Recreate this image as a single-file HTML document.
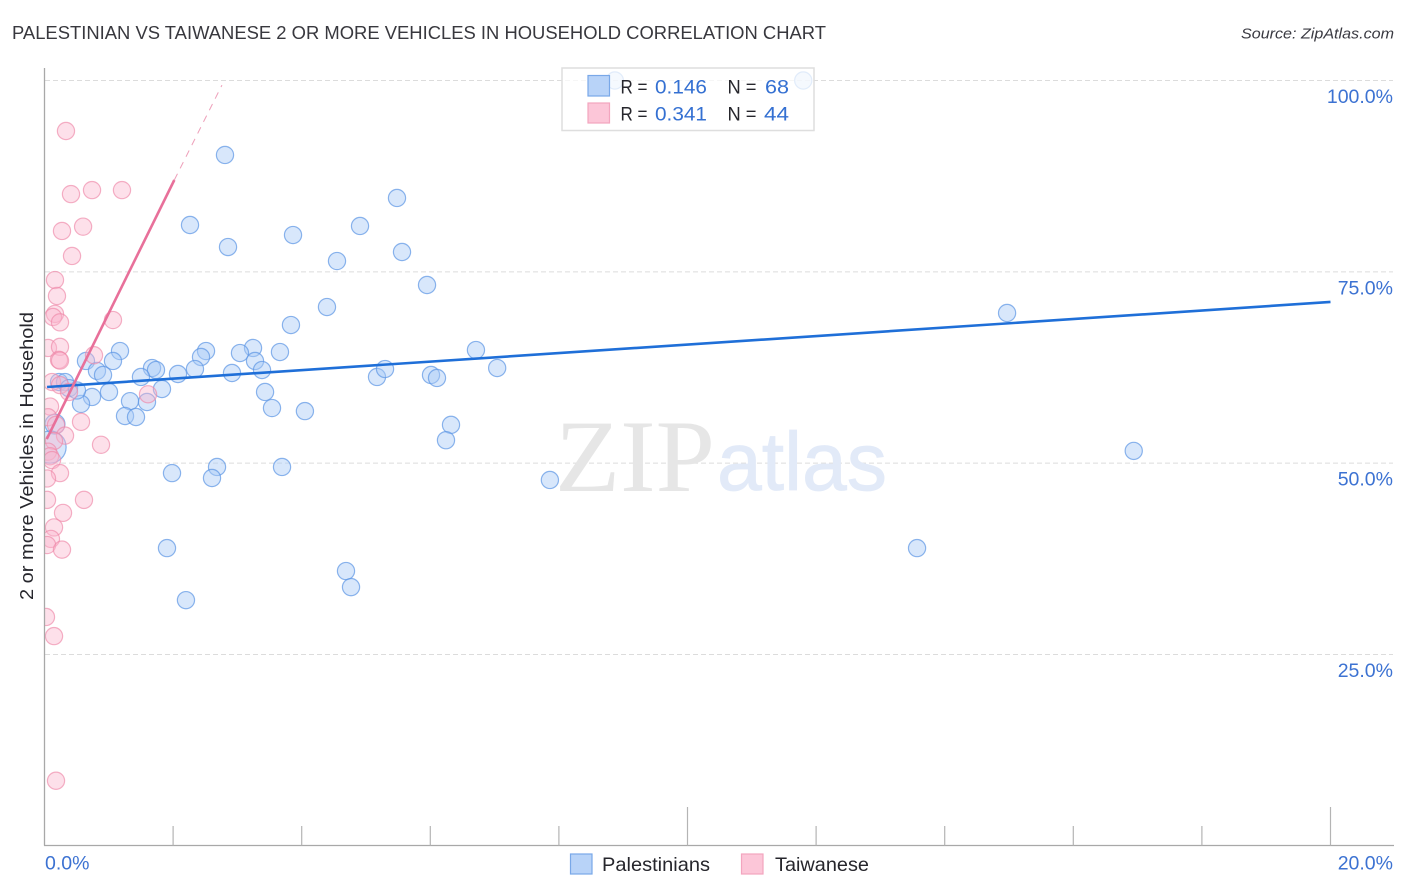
<!DOCTYPE html>
<html lang="en">
<head>
<meta charset="utf-8">
<title>Palestinian vs Taiwanese 2 or More Vehicles in Household Correlation Chart</title>
<style>
html,body{margin:0;padding:0;background:#fff;width:1406px;height:892px;overflow:hidden}
svg{display:block;font-family:"Liberation Sans",sans-serif}
</style>
</head>
<body>
<svg id="chart" width="1406" height="892" viewBox="0 0 1406 892" xmlns="http://www.w3.org/2000/svg">
  <defs>
    <clipPath id="plot-clip"><rect x="45" y="60" width="1350" height="785"/></clipPath>
  </defs>
  <text x="12" y="39" font-size="18.5" fill="#38383e" textLength="814" lengthAdjust="spacingAndGlyphs">PALESTINIAN VS TAIWANESE 2 OR MORE VEHICLES IN HOUSEHOLD CORRELATION CHART</text>
  <text x="1394" y="38.5" font-size="15" font-style="italic" fill="#3a3a42" text-anchor="end" textLength="153" lengthAdjust="spacingAndGlyphs">Source: ZipAtlas.com</text>

  <g id="grid"></g>

  <g>
    <text x="555" y="491" font-family="'Liberation Serif',serif" font-size="103" fill="#e6e6e6" textLength="160" lengthAdjust="spacingAndGlyphs">ZIP</text>
    <text x="717" y="490" font-size="83" fill="#e2eaf8" stroke="#e2eaf8" stroke-width="0.8" textLength="170" lengthAdjust="spacingAndGlyphs">atlas</text>
  </g>

  <g id="points" clip-path="url(#plot-clip)"></g>
  <g id="trends"></g>
  <g id="axes"></g>
  <g id="tick-labels"></g>

  <text transform="translate(33,456) rotate(-90)" font-size="18.5" fill="#26262c" text-anchor="middle" textLength="288" lengthAdjust="spacingAndGlyphs">2 or more Vehicles in Household</text>

  <g>
    <rect x="562" y="68" width="252" height="62.5" fill="#fff" fill-opacity="0.75" stroke="#dedede" stroke-width="1.5"/>
    <rect x="588" y="75.5" width="21.5" height="20.5" fill="#b8d3f8" stroke="#79a8e8" stroke-width="1.2"/>
    <rect x="588" y="103" width="21.5" height="20" fill="#fcc6d8" stroke="#f3a5bf" stroke-width="1.2"/>
    <g font-size="19.5">
      <text x="620.5" y="93.5" fill="#26262c" textLength="27" lengthAdjust="spacingAndGlyphs">R =</text>
      <text x="655" y="93.5" fill="#3470d2" textLength="52" lengthAdjust="spacingAndGlyphs">0.146</text>
      <text x="727.5" y="93.5" fill="#26262c" textLength="29" lengthAdjust="spacingAndGlyphs">N =</text>
      <text x="765" y="93.5" fill="#3470d2" textLength="24" lengthAdjust="spacingAndGlyphs">68</text>
      <text x="620.5" y="120.5" fill="#26262c" textLength="27" lengthAdjust="spacingAndGlyphs">R =</text>
      <text x="655" y="120.5" fill="#3470d2" textLength="52" lengthAdjust="spacingAndGlyphs">0.341</text>
      <text x="727.5" y="120.5" fill="#26262c" textLength="29" lengthAdjust="spacingAndGlyphs">N =</text>
      <text x="764" y="120.5" fill="#3470d2" textLength="25" lengthAdjust="spacingAndGlyphs">44</text>
    </g>
  </g>

  <g>
    <rect x="570.5" y="854" width="21.5" height="20" fill="#b8d3f8" stroke="#79a8e8" stroke-width="1.2"/>
    <text x="602" y="871" font-size="19.5" fill="#26262c" textLength="108" lengthAdjust="spacingAndGlyphs">Palestinians</text>
    <rect x="741.5" y="854" width="21.5" height="20" fill="#fcc6d8" stroke="#f3a5bf" stroke-width="1.2"/>
    <text x="775" y="871" font-size="19.5" fill="#26262c" textLength="94" lengthAdjust="spacingAndGlyphs">Taiwanese</text>
  </g>
</svg>

<script>
// Data, in axis units (percent)
const palestinianX = [2.807,2.263,2.854,3.865,4.907,5.482,5.56,4.549,5.949,4.393,3.833,14.97,6.71,7.04,3.243,3.04,3.662,2.512,2.434,3.274,3.383,2.916,2.34,2.076,1.672,1.734,1.5,1.827,1.174,1.065,0.645,0.816,0.91,1.003,0.739,0.568,1.33,1.594,1.252,1.423,3.43,3.538,4.05,5.171,5.296,6.011,6.104,6.322,6.244,7.86,2.683,2.605,3.694,1.983,1.905,2.2,4.689,4.767,13.57,16.94,8.87,11.8,0.226,0.319,0.381,0.505,0.163,0.086];
const palestinianY = [90.27,81.12,78.24,79.81,80.99,84.65,77.59,76.41,73.28,70.4,68.05,69.62,64.78,62.43,65.05,64.39,64.52,64.65,63.87,63.35,62.17,61.78,62.3,61.65,62.43,62.17,61.26,59.69,64.65,63.35,63.35,62.05,61.52,59.3,58.65,57.74,58.1,57.99,56.16,56.03,59.3,57.2,56.8,61.26,62.3,61.52,61.13,55,53,47.8,49.5,48.06,49.5,48.7,38.9,32.1,35.9,33.8,38.9,51.6,100,100,60.6,60.6,59.8,59.5,55.1,52.1];
const palestinianWeight = [1,1,1,1,1,1,1,1,1,1,1,1,1,1,1,1,1,1,1,1,1,1,1,1,1,1,1,1,1,1,1,1,1,1,1,1,1,1,1,1,1,1,1,1,1,1,1,1,1,1,1,1,1,1,1,1,1,1,1,1,1,1,1,1,1,1,1.35,3.5];
const taiwaneseX = [0.334,0.412,0.739,1.205,0.272,0.6,0.428,0.163,0.194,0.163,0.132,0.241,1.065,0.054,0.241,0.225,0.241,0.77,0.117,0.241,0.381,1.61,0.086,0.054,0.568,0.179,0.319,0.148,0.879,0.054,0.086,0.117,0.241,0.039,0.039,0.614,0.288,0.148,0.1,0.04,0.272,0.023,0.148,0.179];
const taiwaneseY = [93.4,85.16,85.68,85.68,80.34,80.9,77.07,73.93,71.84,69.5,69.1,68.4,68.7,65.05,65.2,63.5,63.4,64.1,60.6,60.2,59.3,59,57.4,56,55.4,55,53.6,52.9,52.4,51.5,50.9,50.4,48.7,48,45.2,45.2,43.5,41.6,40.1,39.3,38.7,29.9,27.4,8.5];
const palestinianTrendX = [0.04,20];
const palestinianTrendY = [59.95,71.06];
const taiwaneseTrendSolidX = [0.035,2.019];
const taiwaneseTrendSolidY = [53.15,87];
const taiwaneseTrendDashX = [2.019,2.76];
const taiwaneseTrendDashY = [87,99.4];
const yTickValues = [100,75,50,25];
const yTickLabels = ["100.0%","75.0%","50.0%","25.0%"];
const xTickValues = [2,4,6,8,10,12,14,16,18,20];
const xEndValues = [0,20];
const xEndLabels = ["0.0%","20.0%"];

const NS = 'http://www.w3.org/2000/svg';
function xScale(v){ return 44.5 + v * 64.3; }
function yScale(v){ return 80.5 + (100 - v) * 7.653; }
function mk(tag, attrs, parent){
  const el = document.createElementNS(NS, tag);
  for (const k in attrs) el.setAttribute(k, attrs[k]);
  parent.appendChild(el);
  return el;
}
const gridG = document.getElementById('grid');
const pointsG = document.getElementById('points');
const trendsG = document.getElementById('trends');
const axesG = document.getElementById('axes');
const labelsG = document.getElementById('tick-labels');

yTickValues.forEach(function(v, i){
  const line = mk('line', {x1:45, x2:1393, y1:yScale(v), y2:yScale(v), stroke:'#dcdcdc', 'stroke-width':1, 'stroke-dasharray':'5 3'}, gridG);
  
  
  const t = mk('text', {x:1393, y:yScale(v) + 22.5, 'font-size':19.5, fill:'#3c72d2', 'text-anchor':'end'}, labelsG);
  t.textContent = yTickLabels[i];
  
  
});

palestinianX.forEach(function(v, i){
  const c = mk('circle', {cx:xScale(v), cy:yScale(palestinianY[i]), r:8.6 * Math.sqrt(palestinianWeight[i]), fill:'#a9caf6', 'fill-opacity':0.45, stroke:'#5d96e4', 'stroke-opacity':0.7, 'stroke-width':1.2}, pointsG);
  
  
});
taiwaneseX.forEach(function(v, i){
  const c = mk('circle', {cx:xScale(v), cy:yScale(taiwaneseY[i]), r:8.6, fill:'#fbb6cc', 'fill-opacity':0.42, stroke:'#ee87a8', 'stroke-opacity':0.65, 'stroke-width':1.2}, pointsG);
  
  
});

const trendBlue = mk('line', {x1:xScale(palestinianTrendX[0]), y1:yScale(palestinianTrendY[0]), x2:xScale(palestinianTrendX[1]), y2:yScale(palestinianTrendY[1]), stroke:'#1f6fd8', 'stroke-width':2.6}, trendsG);


const trendPink = mk('line', {x1:xScale(taiwaneseTrendSolidX[0]), y1:yScale(taiwaneseTrendSolidY[0]), x2:xScale(taiwaneseTrendSolidX[1]), y2:yScale(taiwaneseTrendSolidY[1]), stroke:'#e8709a', 'stroke-width':2.6}, trendsG);


const trendPinkDash = mk('line', {x1:xScale(taiwaneseTrendDashX[0]), y1:yScale(taiwaneseTrendDashY[0]), x2:xScale(taiwaneseTrendDashX[1]), y2:yScale(taiwaneseTrendDashY[1]), stroke:'#eea0ba', 'stroke-width':1, 'stroke-dasharray':'7 6'}, trendsG);



const yAxis = mk('line', {x1:44.5, x2:44.5, y1:68, y2:845.5, stroke:'#a8a8a8', 'stroke-width':1.3}, axesG);


const xAxis = mk('line', {x1:44, x2:1394, y1:845.5, y2:845.5, stroke:'#a8a8a8', 'stroke-width':1.3}, axesG);



xTickValues.forEach(function(v){
  const tall = v === 10 || v === 20;
  const tick = mk('line', {x1:xScale(v), x2:xScale(v), y1:tall ? 807 : 826, y2:845.5, stroke:'#b4b4b4', 'stroke-width':1.2}, axesG);
  
  
});

xEndValues.forEach(function(v, i){
  const t = mk('text', {x:v === 0 ? 45 : 1393, y:869.5, 'font-size':19.5, fill:'#3c72d2', 'text-anchor':v === 0 ? 'start' : 'end'}, labelsG);
  t.textContent = xEndLabels[i];
  
  
});
</script>
</body>
</html>
